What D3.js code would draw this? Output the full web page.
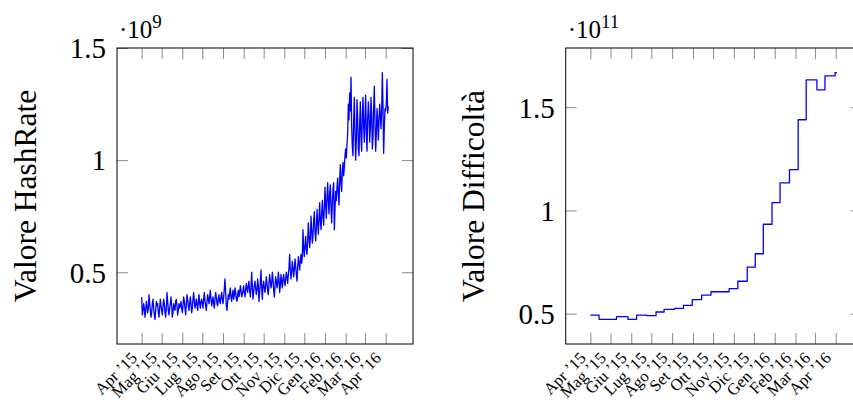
<!DOCTYPE html>
<html>
<head>
<meta charset="utf-8">
<script src="https://cdn.jsdelivr.net/npm/d3@7"></script>
<style>
body { margin: 0; background: #fff; }
svg { display: block; font-family: "Liberation Serif", serif; }
</style>
</head>
<body>
<div class="graphic"></div>
<script>
var width = 853;
var height = 400;

// month tick labels, Apr '15 .. Apr '16
var monthLabels = ["Apr ’15", "Mag ’15", "Giu ’15", "Lug ’15", "Ago ’15", "Set ’15", "Ott ’15",
	"Nov ’15", "Dic ’15", "Gen ’16", "Feb ’16", "Mar ’16", "Apr ’16"];

// daily hash rate from 1 Apr 2015, in units of 1e9
var hashRate = [
	// Apr
	0.39, 0.31, 0.33, 0.36, 0.34, 0.30, 0.33, 0.37, 0.35, 0.32, 0.34, 0.40, 0.36, 0.33, 0.30, 0.32, 0.36, 0.38, 0.34, 0.31,
	0.29, 0.33, 0.37, 0.35, 0.36, 0.32, 0.30, 0.34, 0.38, 0.35,
	// Mag
	0.33, 0.31, 0.35, 0.38, 0.36, 0.32, 0.30, 0.34, 0.41, 0.37, 0.33, 0.31, 0.34, 0.36, 0.39, 0.35, 0.30, 0.32, 0.36, 0.34,
	0.33, 0.37, 0.38, 0.35, 0.31, 0.33, 0.36, 0.34, 0.35, 0.37, 0.34,
	// Giu
	0.32, 0.35, 0.39, 0.37, 0.34, 0.31, 0.36, 0.40, 0.38, 0.35, 0.33, 0.36, 0.39, 0.36, 0.32, 0.34, 0.38, 0.41, 0.37, 0.34,
	0.36, 0.38, 0.35, 0.33, 0.37, 0.40, 0.36, 0.34, 0.37, 0.38,
	// Lug
	0.36, 0.34, 0.38, 0.41, 0.37, 0.35, 0.33, 0.37, 0.40, 0.38, 0.36, 0.39, 0.42, 0.38, 0.35, 0.37, 0.39, 0.36, 0.34, 0.38,
	0.41, 0.39, 0.36, 0.35, 0.38, 0.40, 0.37, 0.36, 0.39, 0.41, 0.38,
	// Ago
	0.36, 0.39, 0.43, 0.47, 0.41, 0.35, 0.33, 0.37, 0.40, 0.38, 0.41, 0.43, 0.39, 0.37, 0.40, 0.42, 0.38, 0.40, 0.43, 0.41,
	0.38, 0.37, 0.40, 0.42, 0.39, 0.41, 0.44, 0.42, 0.39, 0.40, 0.42,
	// Set
	0.44, 0.41, 0.39, 0.42, 0.45, 0.43, 0.41, 0.44, 0.46, 0.42, 0.39, 0.43, 0.50, 0.44, 0.38, 0.41, 0.44, 0.46, 0.43, 0.40,
	0.42, 0.47, 0.44, 0.37, 0.41, 0.45, 0.51, 0.43, 0.38, 0.44,
	// Ott
	0.46, 0.43, 0.41, 0.44, 0.48, 0.45, 0.42, 0.40, 0.45, 0.49, 0.46, 0.43, 0.45, 0.50, 0.47, 0.42, 0.39, 0.44, 0.48, 0.46,
	0.43, 0.45, 0.50, 0.47, 0.41, 0.44, 0.49, 0.46, 0.43, 0.47, 0.49,
	// Nov
	0.46, 0.44, 0.47, 0.50, 0.48, 0.45, 0.49, 0.52, 0.58, 0.51, 0.47, 0.50, 0.55, 0.52, 0.48, 0.51, 0.56, 0.53, 0.49, 0.46,
	0.52, 0.57, 0.54, 0.51, 0.55, 0.58, 0.54, 0.57, 0.69, 0.60,
	// Dic
	0.57, 0.62, 0.66, 0.60, 0.58, 0.64, 0.72, 0.66, 0.61, 0.65, 0.75, 0.69, 0.63, 0.67, 0.73, 0.77, 0.68, 0.64, 0.70, 0.78,
	0.72, 0.67, 0.74, 0.81, 0.73, 0.69, 0.76, 0.82, 0.75, 0.71, 0.79,
	// Gen
	0.88, 0.80, 0.74, 0.83, 0.90, 0.82, 0.76, 0.85, 0.89, 0.79, 0.72, 0.81, 0.87, 0.90, 0.69, 0.78, 0.86, 0.82, 0.88, 0.92,
	0.85, 0.80, 0.91, 0.98, 0.90, 0.86, 0.95, 0.99, 0.93, 0.97, 1.02,
	// Feb
	1.05, 1.01, 1.07, 1.12, 1.25, 1.18, 1.30, 1.22, 1.37, 1.15, 1.06, 1.02, 1.18, 1.28, 1.12, 1.00, 1.09, 1.27, 1.19, 1.05,
	1.02, 1.16, 1.26, 1.10, 1.04, 1.20, 1.28, 1.15, 1.08,
	// Mar
	1.20, 1.29, 1.12, 1.04, 1.18, 1.26, 1.20, 1.08, 1.14, 1.28, 1.21, 1.05, 1.10, 1.24, 1.33, 1.16, 1.04, 1.12, 1.23, 1.18,
	1.09, 1.17, 1.25, 1.20, 1.14, 1.22, 1.39, 1.24, 1.03, 1.15, 1.23,
	// Apr '16
	1.22, 1.26, 1.36, 1.21, 1.24
];

// difficulty retargets: day offset from 1 Apr 2015, value in units of 1e11
var diffDays = [0, 13, 39, 56, 69, 84, 98, 110, 126, 139, 152, 166, 180, 207, 220, 234, 246, 258, 271, 283, 297, 310, 322, 338, 350, 365, 368];
var diffValues = [0.493, 0.4725, 0.4855, 0.4725, 0.493, 0.490, 0.508, 0.521, 0.526, 0.540, 0.568, 0.590, 0.606, 0.621, 0.657,
	0.725, 0.790, 0.933, 1.038, 1.133, 1.197, 1.439, 1.632, 1.584, 1.651, 1.667, 1.667];

var yTicksHash = [0.5, 1, 1.5];
var yTicksDiff = [0.5, 1, 1.5];

var start = Date.UTC(2015, 3, 1);
function dayToDate(d){
	return new Date(start + d * 864e5);
}

var svg = d3.select("div.graphic").append("svg")
	.attr("width", width)
	.attr("height", height);

var pw = 296, ph = 296, top0 = 48;
var tickColor = "#8a8a8a";

function drawPanel(left, points, yTicks, curve, yLabel, expo){
	var g = svg.append("g").attr("transform", "translate(" + left + "," + top0 + ")");

	// pgfplots-like 10% enlargement of the limits
	var dx = d3.extent(points, function(p){ return p.day; });
	var padX = (dx[1] - dx[0]) * 0.1;
	var x = d3.scaleUtc()
		.domain([dayToDate(dx[0] - padX), dayToDate(dx[1] + padX)])
		.range([0, pw]);
	var dy = d3.extent(points, function(p){ return p.v; });
	var padY = (dy[1] - dy[0]) * 0.1;
	var y = d3.scaleLinear()
		.domain([dy[0] - padY, dy[1] + padY])
		.range([ph, 0]);

	var tickDates = d3.utcMonth.range(dayToDate(0), d3.utcMonth.offset(dayToDate(0), 13));

	var gx = g.append("g")
		.attr("transform", "translate(0," + ph + ")")
		.call(d3.axisBottom(x).tickValues(tickDates).tickSizeInner(-11).tickSizeOuter(0)
			.tickFormat(function(d, i){ return monthLabels[i]; }));
	gx.select(".domain").remove();
	gx.selectAll("line").attr("stroke", tickColor);
	gx.selectAll("text")
		.attr("fill", "#000")
		.attr("font-family", "Liberation Serif, serif")
		.attr("font-size", 16.5)
		.attr("text-anchor", "end")
		.attr("y", 0)
		.attr("dy", 0)
		.attr("transform", "translate(-4,15) rotate(-45)");

	var gt = g.append("g")
		.call(d3.axisTop(x).tickValues(tickDates).tickSizeInner(-11).tickSizeOuter(0).tickFormat(""));
	gt.select(".domain").remove();
	gt.selectAll("line").attr("stroke", tickColor);

	var gy = g.append("g")
		.call(d3.axisLeft(y).tickValues(yTicks).tickSizeInner(-11).tickSizeOuter(0).tickPadding(11)
			.tickFormat(d3.format("")));
	gy.select(".domain").remove();
	gy.selectAll("line").attr("stroke", tickColor);
	gy.selectAll("text")
		.attr("fill", "#000")
		.attr("font-family", "Liberation Serif, serif")
		.attr("font-size", 29)
		.attr("dy", "0.34em");

	var gr = g.append("g")
		.attr("transform", "translate(" + pw + ",0)")
		.call(d3.axisRight(y).tickValues(yTicks).tickSizeInner(-11).tickSizeOuter(0).tickFormat(""));
	gr.select(".domain").remove();
	gr.selectAll("line").attr("stroke", tickColor);

	var line = d3.line()
		.x(function(p){ return x(dayToDate(p.day)); })
		.y(function(p){ return y(p.v); })
		.curve(curve);
	g.append("path")
		.datum(points)
		.attr("d", line)
		.attr("fill", "none")
		.attr("stroke", "#0000ff")
		.attr("stroke-width", 1.3)
		.attr("stroke-linejoin", "round");

	g.append("rect")
		.attr("width", pw)
		.attr("height", ph)
		.attr("fill", "none")
		.attr("stroke", "#000")
		.attr("stroke-width", 1);

	g.append("text")
		.attr("transform", "translate(-92," + (ph / 2) + ") rotate(-90)")
		.attr("text-anchor", "middle")
		.attr("dominant-baseline", "central")
		.attr("font-size", 31.5)
		.text(yLabel);

	var m = g.append("text")
		.attr("x", 2)
		.attr("y", -10)
		.attr("font-size", 25);
	m.append("tspan").text("·10");
	m.append("tspan").attr("dy", -10).attr("font-size", 19).text(expo);
}

var hashPoints = hashRate.map(function(v, i){ return {day: i, v: v}; });
var diffPoints = diffValues.map(function(v, i){ return {day: diffDays[i], v: v}; });

drawPanel(117, hashPoints, yTicksHash, d3.curveLinear, "Valore HashRate", "9");
drawPanel(565.7, diffPoints, yTicksDiff, d3.curveStepAfter, "Valore Difficoltà", "11");
</script>
</body>
</html>
